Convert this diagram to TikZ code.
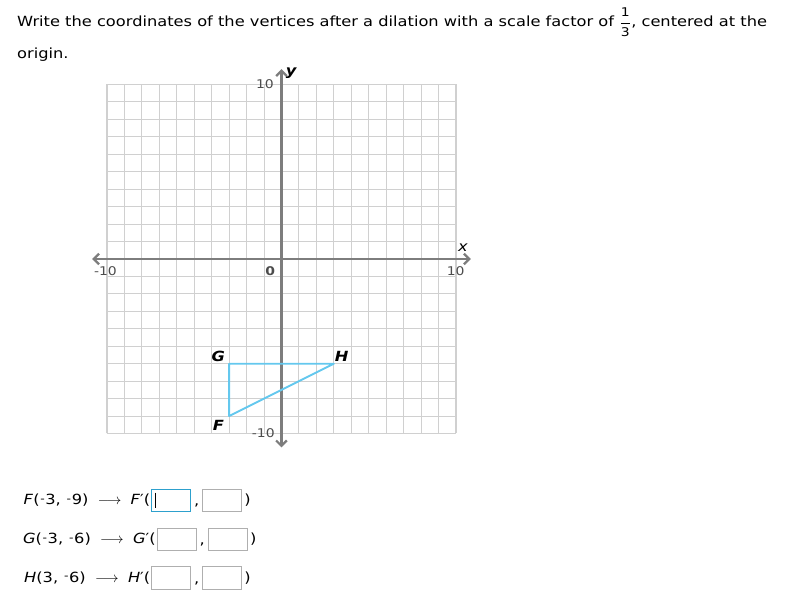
\documentclass[tikz,border=0pt]{standalone}
\usepackage{fontspec}
\setmainfont{DejaVu Sans}[FakeStretch=1.16]
\usepackage{tikz}
\usetikzlibrary{arrows.meta,positioning}

\definecolor{gridgray}{RGB}{208,208,208}
\definecolor{axisgray}{RGB}{125,125,125}
\definecolor{triblue}{RGB}{100,200,238}
\definecolor{boxgray}{RGB}{175,175,175}
\definecolor{boxblue}{RGB}{45,160,205}

\newcommand{\mns}{\hspace{0.5pt}\raisebox{0.3ex}{\footnotesize -}\hspace{0.5pt}}
\newcommand{\bodysize}{\fontsize{10.5pt}{12.6pt}\selectfont}
\newcommand{\maps}{\hspace{7pt}\(\longrightarrow\)\hspace{7pt}}

\tikzset{
  axis/.style={draw=axisgray,line width=1.7pt,
    {Straight Barb[length=4pt,width=8pt]}-{Straight Barb[length=4pt,width=8pt]}},
  ticklabel/.style={text=black!70,font=\fontsize{9pt}{10pt}\selectfont,inner sep=0pt},
  vertex/.style={font=\bodysize\bfseries\itshape,inner sep=0pt},
  ansbox/.style={draw=boxgray,line width=0.8pt,minimum width=29.2pt,minimum height=16.9pt,inner sep=0pt},
  rowtext/.style={inner sep=0.5pt,font=\bodysize}
}

\begin{document}
\begin{tikzpicture}[x=13.0875pt,y=13.0875pt]
    \useasboundingbox (-16.13,-19.54) rectangle (29.54,14.84);

    % question
    \node[anchor=base west,inner sep=0pt,font=\bodysize] (line1) at (-15.16,13.30)
      {Write the coordinates of the vertices after a dilation with a scale factor of \(\displaystyle\frac{\mbox{\small 1}}{\mbox{\small 3}}\), centered at the};
    \node[anchor=base west,inner sep=0pt,font=\bodysize] (line2) at (-15.16,11.46) {origin.};

    % grid and axes
    \draw[gridgray,line width=0.8pt,step={(1,1)}] (-10,-10) grid (10,10);
    \coordinate (xleft) at (-10.85,0);
    \coordinate (xright) at (10.85,0);
    \coordinate (ydown) at (0,-10.8);
    \coordinate (yup) at (0,10.88);
    \draw[axis] (xleft) -- (xright);
    \draw[axis] (ydown) -- (yup);

    \node[ticklabel] (ytop) at (-0.95,10.03) {10};
    \node[ticklabel] (ybot) at (-1.04,-9.99) {-10};
    \node[ticklabel] (xlft) at (-10.09,-0.69) {-10};
    \node[ticklabel] (xrgt) at (9.98,-0.69) {10};
    \node[ticklabel] (zero) at (-0.64,-0.69) {\bfseries 0};
    \node[vertex] (ylab) at (0.55,10.66) {y};
    \node[vertex,font=\bodysize\itshape] (xlab) at (10.40,0.63) {x};

    % triangle FGH
    \coordinate (F) at (-3,-9);
    \coordinate (G) at (-3,-6);
    \coordinate (H) at (3,-6);
    \draw[triblue,line width=1.4pt,line join=round] (F) -- (G) -- (H) -- cycle;
    \node[vertex] (Flab) at (-3.62,-9.51) {F};
    \node[vertex] (Glab) at (-3.62,-5.56) {G};
    \node[vertex] (Hlab) at (3.45,-5.56) {H};

    % answer rows
    \node[ansbox,draw=boxblue] (f1) at (-6.32,-13.84) {};
    \node[ansbox] (f2) at (-3.41,-13.84) {};
    \node[ansbox] (g1) at (-6.01,-16.07) {};
    \node[ansbox] (g2) at (-3.08,-16.07) {};
    \node[ansbox] (h1) at (-6.32,-18.27) {};
    \node[ansbox] (h2) at (-3.41,-18.27) {};

    \draw[line width=0.5pt] ([shift={(3pt,-3pt)}]f1.north west) -- ([shift={(3pt,3pt)}]f1.south west);

    \node[rowtext,left=0pt of f1] (frow) {\textit{F}(\mns3, \mns9)\maps\textit{F}′(};
    \node[rowtext,left=0pt of g1] (grow) {\textit{G}(\mns3, \mns6)\maps\textit{G}′(};
    \node[rowtext,left=0pt of h1] (hrow) {\textit{H}(3, \mns6)\maps\textit{H}′(};

    \path (f1) -- (f2) node[midway,yshift=-4pt,font=\bodysize] (fcomma) {,};
    \path (g1) -- (g2) node[midway,yshift=-4pt,font=\bodysize] (gcomma) {,};
    \path (h1) -- (h2) node[midway,yshift=-4pt,font=\bodysize] (hcomma) {,};

    \node[rowtext,right=1pt of f2] (fclose) {)};
    \node[rowtext,right=1pt of g2] (gclose) {)};
    \node[rowtext,right=1pt of h2] (hclose) {)};
\end{tikzpicture}
\end{document}
